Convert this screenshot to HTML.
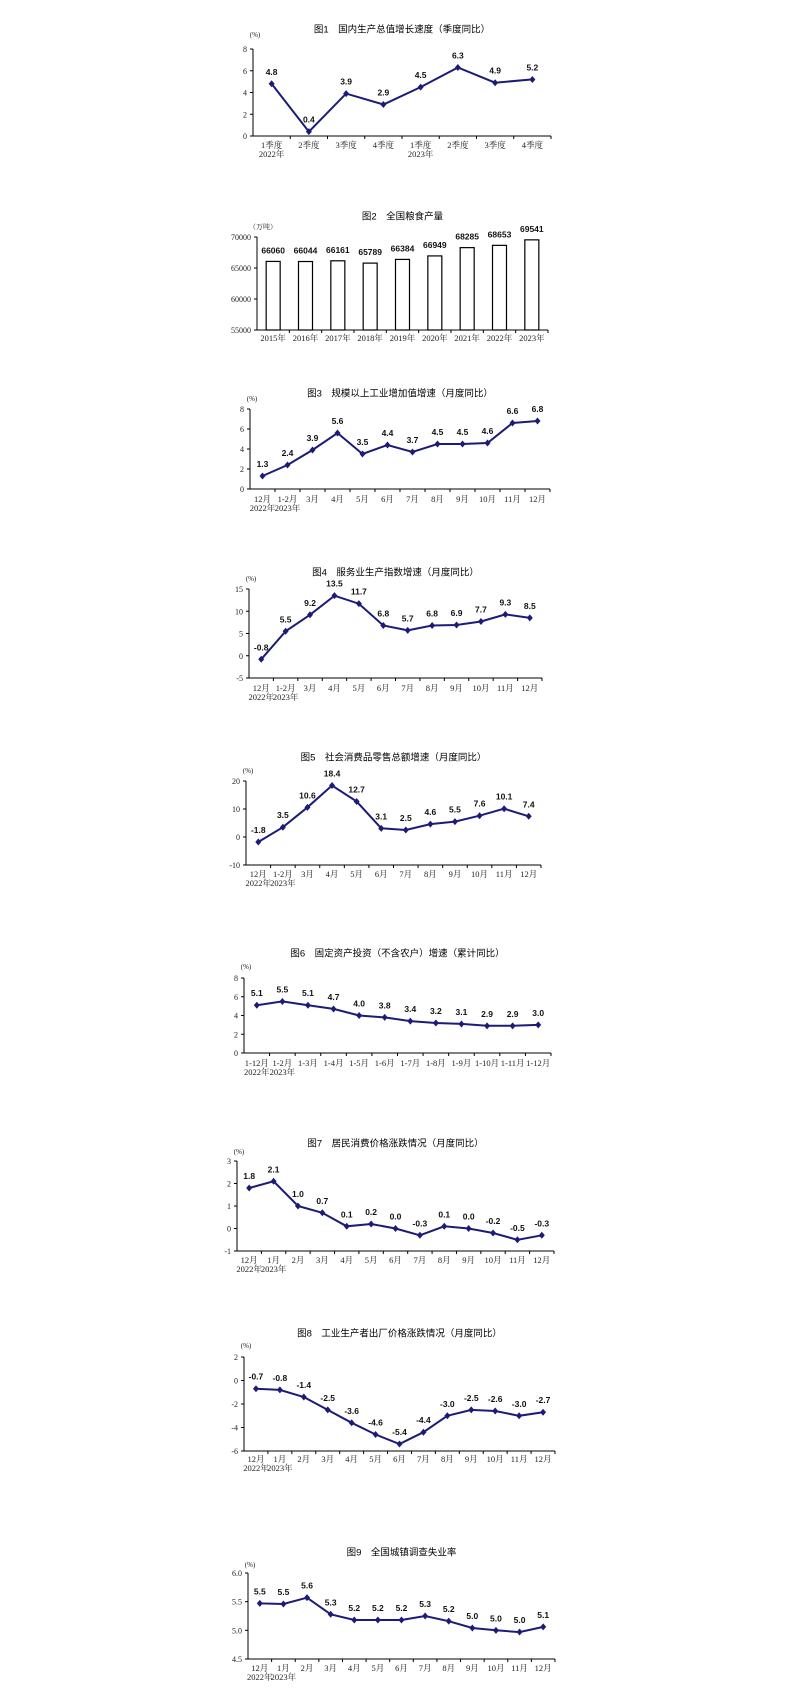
<!DOCTYPE html>
<html><head><meta charset="utf-8">
<style>
html,body{margin:0;padding:0;background:#fff;}
svg{display:block;}
.t{font-family:"Liberation Sans","Noto Sans CJK SC",sans-serif;font-size:9.5px;fill:#000;}
.s{font-family:"Liberation Serif","Noto Serif CJK SC",serif;font-size:8.5px;fill:#222;}
.d{font-family:"Liberation Sans","Noto Sans CJK SC",sans-serif;font-size:8.5px;font-weight:bold;fill:#111;}
</style></head>
<body>
<svg id="g" width="800" height="1707" xmlns="http://www.w3.org/2000/svg"></svg>
<script>
const M=["12月","1月","2月","3月","4月","5月","6月","7月","8月","9月","10月","11月","12月"];
const M2=["12月","1-2月","3月","4月","5月","6月","7月","8月","9月","10月","11月","12月"];
const C=[
{t:"图1　国内生产总值增长速度（季度同比）",ty:29,x0:253,x1:551,yt:49,yb:136,mn:0,mx:8,st:2,u:"(%)",uy:34,
 d:[4.8,0.4,3.9,2.9,4.5,6.3,4.9,5.2],l:["1季度","2季度","3季度","4季度","1季度","2季度","3季度","4季度"],l2:[[0,"2022年"],[4,"2023年"]],ly:145},
{bar:1,t:"图2　全国粮食产量",ty:216,x0:257,x1:548,yt:237,yb:330,mn:55000,mx:70000,st:5000,u:"（万吨）",uy:226,
 d:[66060,66044,66161,65789,66384,66949,68285,68653,69541],l:["2015年","2016年","2017年","2018年","2019年","2020年","2021年","2022年","2023年"],ly:338},
{t:"图3　规模以上工业增加值增速（月度同比）",ty:393,x0:250,x1:550,yt:409,yb:489,mn:0,mx:8,st:2,u:"(%)",uy:398,
 d:[1.3,2.4,3.9,5.6,3.5,4.4,3.7,4.5,4.5,4.6,6.6,6.8],l:M2,ly:499},
{t:"图4　服务业生产指数增速（月度同比）",ty:572,x0:249,x1:542,yt:589,yb:678,mn:-5,mx:15,st:5,u:"(%)",uy:578,
 d:[-0.8,5.5,9.2,13.5,11.7,6.8,5.7,6.8,6.9,7.7,9.3,8.5],l:M2,ly:688},
{t:"图5　社会消费品零售总额增速（月度同比）",ty:757,x0:246,x1:541,yt:781,yb:865,mn:-10,mx:20,st:10,u:"(%)",uy:770,
 d:[-1.8,3.5,10.6,18.4,12.7,3.1,2.5,4.6,5.5,7.6,10.1,7.4],l:M2,ly:874},
{t:"图6　固定资产投资（不含农户）增速（累计同比）",ty:953,x0:244,x1:551,yt:978,yb:1053,mn:0,mx:8,st:2,u:"(%)",uy:966,
 d:[5.1,5.5,5.1,4.7,4.0,3.8,3.4,3.2,3.1,2.9,2.9,3.0],l:["1-12月","1-2月","1-3月","1-4月","1-5月","1-6月","1-7月","1-8月","1-9月","1-10月","1-11月","1-12月"],ly:1063},
{t:"图7　居民消费价格涨跌情况（月度同比）",ty:1143,x0:237,x1:554,yt:1161,yb:1251,mn:-1,mx:3,st:1,u:"(%)",uy:1151,
 d:[1.8,2.1,1.0,0.7,0.1,0.2,0.0,-0.3,0.1,0.0,-0.2,-0.5,-0.3],l:M,ly:1260},
{t:"图8　工业生产者出厂价格涨跌情况（月度同比）",ty:1333,x0:244,x1:555,yt:1357,yb:1451,mn:-6,mx:2,st:2,u:"(%)",uy:1345,
 d:[-0.7,-0.8,-1.4,-2.5,-3.6,-4.6,-5.4,-4.4,-3.0,-2.5,-2.6,-3.0,-2.7],l:M,ly:1459},
{t:"图9　全国城镇调查失业率",ty:1552,x0:248,x1:555,yt:1573,yb:1659,mn:4.5,mx:6.0,st:0.5,u:"(%)",uy:1564,fx:1,
 d:[5.47,5.46,5.57,5.28,5.18,5.18,5.18,5.25,5.16,5.04,5.0,4.97,5.06],dl:["5.5","5.5","5.6","5.3","5.2","5.2","5.2","5.3","5.2","5.0","5.0","5.0","5.1"],l:M,ly:1668}
];
let h="";
for(const c of C){
 const n=c.d.length,w=(c.x1-c.x0)/n,Y=v=>c.yb-(v-c.mn)/(c.mx-c.mn)*(c.yb-c.yt);
 h+=`<text class="t" x="${(c.x0+c.x1)/2}" y="${c.ty+3.5}" text-anchor="middle">${c.t}</text>`;
 h+=`<text class="s" x="${c.x0+(c.bar?6:2)}" y="${c.uy+3}" text-anchor="middle" style="font-size:7px">${c.u}</text>`;
 h+=`<line x1="${c.x0}" y1="${c.yt}" x2="${c.x0}" y2="${c.yb}" stroke="#000" stroke-width="1"/>`;
 h+=`<line x1="${c.x0}" y1="${c.yb}" x2="${c.x1}" y2="${c.yb}" stroke="#000" stroke-width="1"/>`;
 for(let v=c.mn;v<=c.mx+1e-9;v+=c.st){const y=Y(v);
  h+=`<line x1="${c.x0-3}" y1="${y}" x2="${c.x0}" y2="${y}" stroke="#000"/>`;
  let s=c.fx?v.toFixed(1):String(Math.round(v));
  h+=`<text class="s" x="${c.x0-6}" y="${y+3}" text-anchor="end" style="font-size:8px">${s}</text>`;}
 for(let i=1;i<=n;i++){const x=c.x0+i*w;h+=`<line x1="${x}" y1="${c.yb}" x2="${x}" y2="${c.yb+3}" stroke="#000"/>`;}
 for(let i=0;i<n;i++){const x=c.x0+(i+.5)*w;h+=`<text class="s" x="${x}" y="${c.ly+3}" text-anchor="middle">${c.l[i]}</text>`;}
 const l2=c.l2||(c.bar?[]:[[0,"2022年"],[1,"2023年"]]);
 for(const [i,s] of l2){h+=`<text class="s" x="${c.x0+(i+.5)*w}" y="${c.ly+12}" text-anchor="middle">${s}</text>`;}
 if(c.bar){
  for(let i=0;i<n;i++){const x=c.x0+(i+.5)*w,y=Y(c.d[i]);
   h+=`<rect x="${x-7}" y="${y}" width="14" height="${c.yb-y}" fill="#fff" stroke="#000" stroke-width="1.2"/>`;
   h+=`<text class="d" x="${x}" y="${y-8}" text-anchor="middle">${c.d[i]}</text>`;}
 } else {
  let p=c.d.map((v,i)=>`${(c.x0+(i+.5)*w).toFixed(1)},${Y(v).toFixed(1)}`).join(" ");
  h+=`<polyline points="${p}" fill="none" stroke="#1c1c78" stroke-width="2"/>`;
  c.d.forEach((v,i)=>{const x=c.x0+(i+.5)*w,y=Y(v);
   h+=`<polygon points="${x},${y-3.5} ${x+3},${y} ${x},${y+3.5} ${x-3},${y}" fill="#1c1c78"/>`;
   const s=c.dl?c.dl[i]:v.toFixed(1);
   h+=`<text class="d" x="${x}" y="${y-9}" text-anchor="middle">${s}</text>`;});
 }
}
document.getElementById("g").innerHTML=h;
</script>
</body></html>
